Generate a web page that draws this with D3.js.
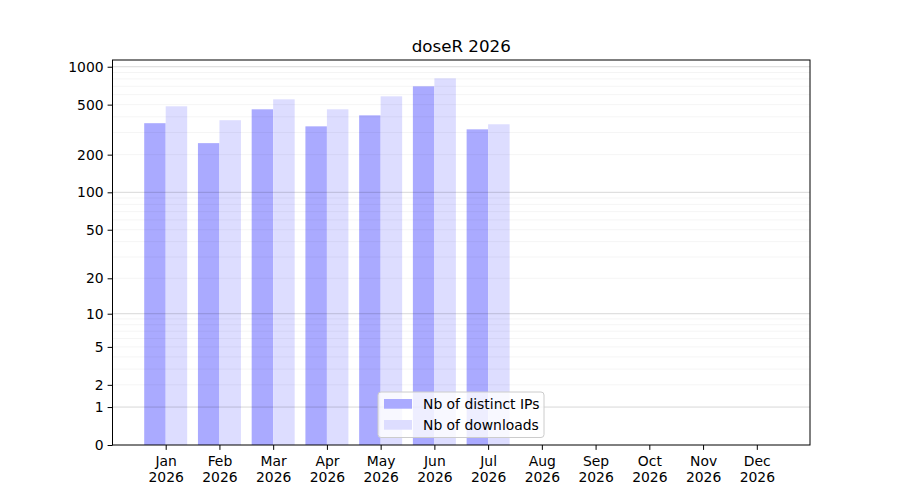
<!DOCTYPE html>
<html>
<head>
<meta charset="utf-8">
<script src="https://cdn.jsdelivr.net/npm/d3@7"></script>
<style>
  body { margin: 0; background: #fff; }
  svg { display: block; font-family: "DejaVu Sans", sans-serif; }
</style>
</head>
<body>
<div id="chart"></div>
<script>
const months = ['Jan', 'Feb', 'Mar', 'Apr', 'May', 'Jun', 'Jul', 'Aug', 'Sep', 'Oct', 'Nov', 'Dec']
const year = '2026'
const distinctIps = [356, 247, 459, 336, 411, 699, 318, 0, 0, 0, 0, 0]
const downloads = [485, 376, 551, 459, 582, 809, 349, 0, 0, 0, 0, 0]
const yTicks = [0, 1, 2, 5, 10, 20, 50, 100, 200, 500, 1000]
const majorGrid = [1, 10, 100, 1000]
const minorGrid = [2, 3, 4, 5, 6, 7, 8, 9, 20, 30, 40, 50, 60, 70, 80, 90, 200, 300, 400, 500, 600, 700, 800, 900]

const width = 900
const height = 500
const margin = { left: 112.5, right: 90, top: 60, bottom: 55 }
const barW = 0.4

const svg = d3.select('#chart')
  .append('svg')
  .attr('width', width)
  .attr('height', height)

// x scale in month-index units, with 5% margins like matplotlib
const xMin = -barW, xMax = months.length - 1 + barW
const xPad = (xMax - xMin) * 0.05
const x = d3.scaleLinear()
  .domain([xMin - xPad, xMax + xPad])
  .range([margin.left, width - margin.right])

// symlog y (log10(1 + v)), top margin 5% in transformed space
const maxVal = d3.max(downloads.concat(distinctIps))
const yTop = Math.pow(10, Math.log10(1 + maxVal) * 1.05) - 1
const y = d3.scaleSymlog()
  .constant(1)
  .domain([0, yTop])
  .range([height - margin.bottom, margin.top])

// Bars
const series = [
  { values: distinctIps, offset: -barW, color: '#aaaaff' },
  { values: downloads, offset: 0, color: '#ddddff' }
]
series.forEach(s => {
  svg.append('g')
    .selectAll('rect')
    .data(s.values)
    .join('rect')
    .attr('x', (d, i) => x(i + s.offset))
    .attr('width', x(barW) - x(0))
    .attr('y', d => y(d))
    .attr('height', d => y(0) - y(d))
    .attr('fill', s.color)
})

// Grid lines on top of bars
svg.append('g')
  .selectAll('line')
  .data(minorGrid)
  .join('line')
  .attr('x1', margin.left)
  .attr('x2', width - margin.right)
  .attr('y1', d => y(d))
  .attr('y2', d => y(d))
  .attr('stroke', '#000')
  .attr('stroke-opacity', 0.06)
  .attr('stroke-width', 0.8)

svg.append('g')
  .selectAll('line')
  .data(majorGrid)
  .join('line')
  .attr('x1', margin.left)
  .attr('x2', width - margin.right)
  .attr('y1', d => y(d))
  .attr('y2', d => y(d))
  .attr('stroke', '#000')
  .attr('stroke-opacity', 0.2)
  .attr('stroke-width', 0.8)

// Frame
svg.append('rect')
  .attr('x', margin.left)
  .attr('y', margin.top)
  .attr('width', width - margin.left - margin.right)
  .attr('height', height - margin.top - margin.bottom)
  .attr('fill', 'none')
  .attr('stroke', '#000')
  .attr('stroke-width', 1)

// Y axis
const yAxis = svg.append('g')
  .attr('transform', `translate(${margin.left},0)`)
  .call(d3.axisLeft(y).tickValues(yTicks).tickFormat(d3.format('d')).tickSizeOuter(0).tickSize(4.9).tickPadding(4))
yAxis.select('.domain').remove()
yAxis.selectAll('text').attr('font-size', '13.9px').attr('fill', '#000').attr('font-family', '"DejaVu Sans", sans-serif')

// X axis
const xAxis = svg.append('g')
  .attr('transform', `translate(0,${height - margin.bottom})`)
  .call(d3.axisBottom(x).tickValues(d3.range(months.length)).tickFormat('').tickSizeOuter(0).tickSize(4.9))
xAxis.select('.domain').remove()
xAxis.selectAll('.tick').each(function (d) {
  const t = d3.select(this).append('text')
    .attr('fill', '#000')
    .attr('font-size', '13.9px')
    .attr('font-family', '"DejaVu Sans", sans-serif')
    .attr('text-anchor', 'middle')
  t.append('tspan').attr('x', 0).attr('y', 20.5).text(months[d])
  t.append('tspan').attr('x', 0).attr('y', 37).text(year)
})

// Title
svg.append('text')
  .attr('x', (margin.left + width - margin.right) / 2)
  .attr('y', 51.5)
  .attr('text-anchor', 'middle')
  .attr('font-size', '16.7px')
  .attr('fill', '#000')
  .text('doseR ' + year)

// Legend
const legend = svg.append('g').attr('transform', 'translate(378,392)')
legend.append('rect')
  .attr('width', 166)
  .attr('height', 45.5)
  .attr('rx', 3)
  .attr('fill', '#fff')
  .attr('fill-opacity', 0.8)
  .attr('stroke', '#ccc')
legend.selectAll('g.item')
  .data([
    { label: 'Nb of distinct IPs', color: series[0].color },
    { label: 'Nb of downloads', color: series[1].color }
  ])
  .join('g')
  .attr('class', 'item')
  .attr('transform', (d, i) => `translate(6,${7 + i * 21})`)
  .each(function (d) {
    const g = d3.select(this)
    g.append('rect').attr('width', 28).attr('height', 9.7).attr('fill', d.color)
    g.append('text')
      .attr('x', 39)
      .attr('y', 10)
      .attr('font-size', '13.9px')
      .attr('fill', '#000')
      .text(d.label)
  })
</script>
</body>
</html>
